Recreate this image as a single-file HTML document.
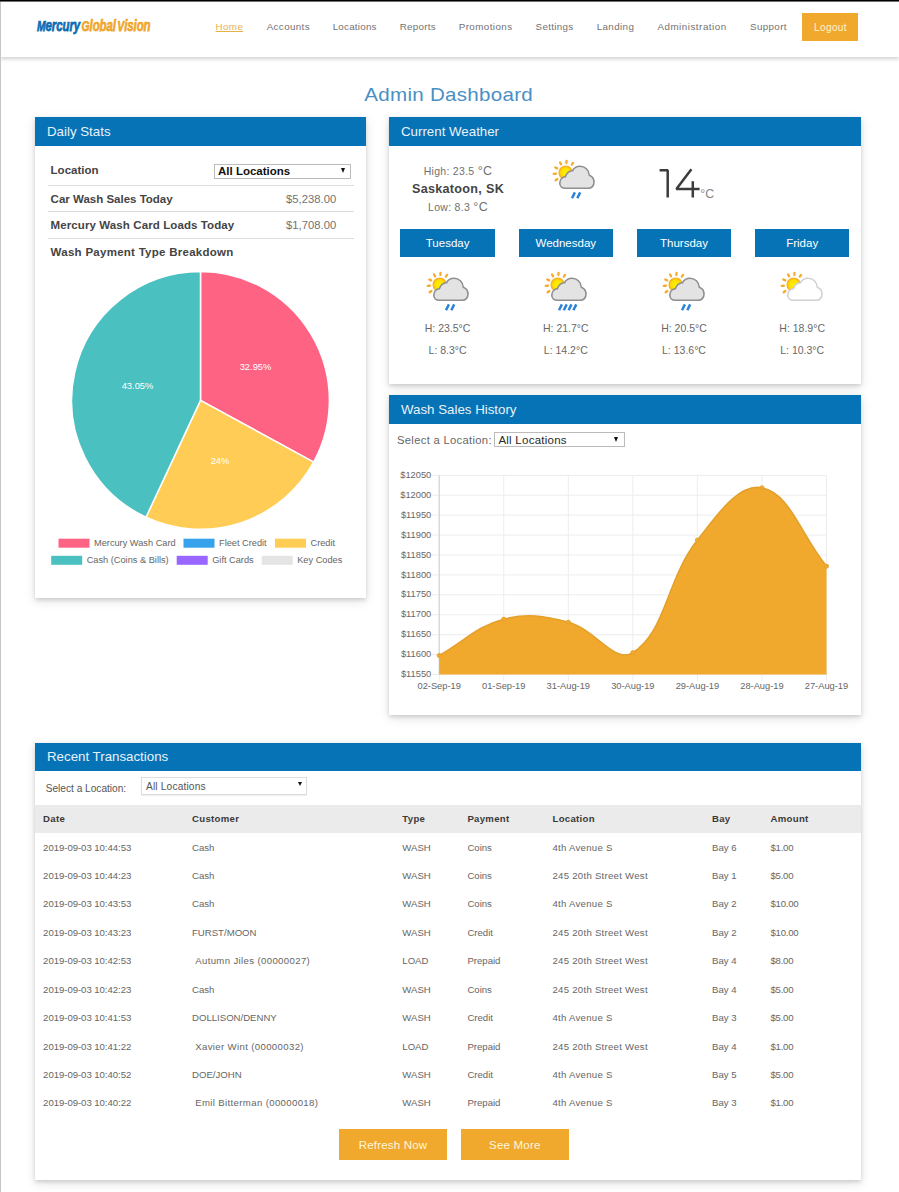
<!DOCTYPE html>
<html><head><meta charset="utf-8">
<style>
*{box-sizing:border-box;margin:0;padding:0}
html,body{width:899px;height:1192px;overflow:hidden;background:#fff}
body{font-family:"Liberation Sans",sans-serif;color:#555;position:relative;font-size:10.5px}
.abs{position:absolute;white-space:nowrap}
#topbar{left:0;top:0;width:899px;height:2px;background:linear-gradient(#000 0,#000 1px,#707070 1px,#707070 2px)}
#leftedge{left:0;top:2px;width:1px;height:1190px;background:#c6c6c6}
#nav{left:0;top:2px;width:899px;height:55px;background:#fff;box-shadow:0 2px 4px rgba(0,0,0,.19)}
.logo{left:37px;top:16px;font-size:16.6px;line-height:20px;font-weight:bold;font-style:italic;transform-origin:0 0;transform:scaleX(.69);letter-spacing:-.1px;-webkit-text-stroke:.75px;word-spacing:-2.5px}
.logo b{font-size:15px}
.logo .m{color:#0b6db3;-webkit-text-stroke-color:#0b6db3}.logo .g{color:#f0a62c;-webkit-text-stroke-color:#f0a62c}
.nv{top:20.9px;font-size:9.8px;color:#737373;line-height:12px}
#logout{left:802px;top:13px;width:56.4px;height:27.6px;background:#f0a92d;color:#fff3d2;text-align:center;line-height:29.6px;font-size:10px;letter-spacing:.42px;padding-left:.6px}
#title{left:-.7px;width:899px;text-align:center;top:82.8px;font-size:18.6px;color:#4a8fc4;line-height:24px;letter-spacing:.25px;transform:scaleX(1.105);transform-origin:448px 0}
.card{background:#fff;box-shadow:0 2px 4px rgba(0,0,0,.14),0 3px 11px rgba(0,0,0,.11)}
.hd{left:0;top:0;right:0;height:29px;background:#0673b6;color:#e9f2f9;font-size:13.3px;line-height:29px;padding-left:12px}
.lb{left:50.6px;font-size:11.5px;font-weight:bold;color:#444;line-height:14px}
.vl{left:286.1px;font-size:11.25px;color:#727272;line-height:14px}
.hr{left:48px;width:306px;height:1px;background:#dcdcdc}
.sel{border:1px solid #bbb;background:#fff}
.tri{width:0;height:0;border-left:2.9px solid transparent;border-right:2.9px solid transparent;border-top:5px solid #111}
.day{top:228.6px;width:94.6px;height:28.8px;background:#0673b6;color:#fff;text-align:center;line-height:28px;font-size:11.5px}
.hl{width:94.6px;text-align:center;font-size:10.5px;color:#686868;line-height:13px}
.th{font-size:9.6px;font-weight:bold;color:#3a3a3a;line-height:12px;letter-spacing:.3px}
.td{font-size:9.6px;color:#666;line-height:12px}
.td.d{letter-spacing:-.05px}
.td.m{letter-spacing:-.25px}
.td.l{letter-spacing:.27px}
.td.n{letter-spacing:.36px}
.btn{top:1129.4px;width:108px;height:30.6px;background:#f0a92d;color:#fff6dc;text-align:center;line-height:32.8px;font-size:11.5px;letter-spacing:.2px}
svg text{font-family:"Liberation Sans",sans-serif}
</style></head><body>
<svg width="0" height="0" style="position:absolute"><defs><radialGradient id="sung" cx="50%" cy="50%" r="60%"><stop offset="0" stop-color="#fff200"/><stop offset=".55" stop-color="#ffe100"/><stop offset="1" stop-color="#f9a825"/></radialGradient></defs></svg>
<div class="abs" id="nav"></div>
<div class="abs" id="topbar"></div>
<div class="abs" id="leftedge"></div>
<div class="abs logo"><span class="m"><b>M</b>ercury</span> <span class="g"><b>G</b>lobal <b>V</b>ision</span></div>
<div class="abs nv" style="left:215.5px;color:#e9b04c;text-decoration:underline;text-decoration-thickness:.8px;text-underline-offset:.6px;letter-spacing:0.4px">Home</div>
<div class="abs nv" style="left:266.7px;letter-spacing:0.37px">Accounts</div>
<div class="abs nv" style="left:332.7px;letter-spacing:0.23px">Locations</div>
<div class="abs nv" style="left:399.7px;letter-spacing:0.29px">Reports</div>
<div class="abs nv" style="left:458.7px;letter-spacing:0.43px">Promotions</div>
<div class="abs nv" style="left:535.6px;letter-spacing:0.31px">Settings</div>
<div class="abs nv" style="left:596.7px;letter-spacing:0.39px">Landing</div>
<div class="abs nv" style="left:657.4px;letter-spacing:0.52px">Administration</div>
<div class="abs nv" style="left:750px;letter-spacing:0.36px">Support</div>
<div class="abs" id="logout">Logout</div>
<div class="abs" id="title">Admin Dashboard</div>

<!-- DAILY STATS -->
<div class="abs card" style="left:35px;top:117px;width:331px;height:480.5px"><div class="abs hd">Daily Stats</div></div>
<div class="abs lb" style="top:163.2px">Location</div>
<div class="abs sel" style="left:214px;top:163.6px;width:137.2px;height:15px"></div>
<div class="abs" style="left:218px;top:164px;font-size:11.5px;font-weight:bold;color:#111;line-height:14px">All Locations</div>
<div class="abs tri" style="left:340.6px;top:168.4px"></div>
<div class="abs hr" style="top:185px"></div>
<div class="abs lb" style="top:191.8px">Car Wash Sales Today</div>
<div class="abs vl" style="top:191.8px">$5,238.00</div>
<div class="abs hr" style="top:211.4px"></div>
<div class="abs lb" style="top:218.4px;letter-spacing:.1px">Mercury Wash Card Loads Today</div>
<div class="abs vl" style="top:218.4px">$1,708.00</div>
<div class="abs hr" style="top:238px"></div>
<div class="abs lb" style="top:245px;letter-spacing:.27px">Wash Payment Type Breakdown</div>
<svg class="abs" style="left:0;top:0" width="899" height="1192" viewBox="0 0 899 1192">
<path d="M200.5 400.4L200.50 271.50A128.9 128.9 0 0 1 313.65 462.14Z" fill="#ff6384" stroke="#fff" stroke-width="1.5" stroke-linejoin="round"/><path d="M200.5 400.4L313.65 462.14A128.9 128.9 0 0 1 145.98 517.20Z" fill="#ffcd56" stroke="#fff" stroke-width="1.5" stroke-linejoin="round"/><path d="M200.5 400.4L145.98 517.20A128.9 128.9 0 0 1 200.50 271.50Z" fill="#4bc0c0" stroke="#fff" stroke-width="1.5" stroke-linejoin="round"/>
<g font-size="9.35" fill="#fff" text-anchor="middle"><text x="255.5" y="370.3">32.95%</text><text x="137.5" y="389.3">43.05%</text><text x="220" y="464.3">24%</text></g>
<g><rect x="58.5" y="538.7" width="31" height="9" fill="#ff6384"/><rect x="183.5" y="538.7" width="31" height="9" fill="#36a2eb"/><rect x="275" y="538.7" width="31" height="9" fill="#ffcd56"/>
<rect x="51.2" y="555.8" width="31" height="9" fill="#4bc0c0"/><rect x="176.7" y="555.8" width="31" height="9" fill="#9966ff"/><rect x="261.7" y="555.8" width="31" height="9" fill="#e4e4e4"/></g>
<g font-size="9.22" fill="#666"><text x="94" y="546.1">Mercury Wash Card</text><text x="219" y="546.1">Fleet Credit</text><text x="310.5" y="546.1">Credit</text>
<text x="86.7" y="562.7">Cash (Coins &amp; Bills)</text><text x="212.2" y="562.7">Gift Cards</text><text x="297.2" y="562.7">Key Codes</text></g>
</svg>

<!-- WEATHER -->
<div class="abs card" style="left:389px;top:117px;width:472px;height:266.5px"><div class="abs hd">Current Weather</div></div>
<div class="abs" style="left:398px;width:120px;text-align:center;top:165.4px;font-size:10.5px;color:#707070;line-height:13px;letter-spacing:.3px">High: 23.5 <span style="font-size:12.5px">°C</span></div>
<div class="abs" style="left:398px;width:120px;text-align:center;top:181.6px;font-size:12.6px;font-weight:bold;color:#444;line-height:15px;letter-spacing:.3px">Saskatoon, SK</div>
<div class="abs" style="left:398px;width:120px;text-align:center;top:200.6px;font-size:10.5px;color:#707070;line-height:13px;letter-spacing:.3px">Low: 8.3 <span style="font-size:12.5px">°C</span></div>
<svg class="abs" style="left:546.1px;top:153.9px" width="60" height="50" viewBox="0 0 60 50">
<g stroke="#f6ab2b" stroke-width="2.3" stroke-linecap="round"><line x1="20.39" y1="8.87" x2="20.53" y2="6.78"/><line x1="25.81" y1="10.59" x2="27.07" y2="8.92"/><line x1="15.07" y1="10.35" x2="14.05" y2="8.51"/><line x1="11.19" y1="14.36" x2="9.32" y2="13.41"/><line x1="9.80" y1="19.74" x2="7.72" y2="19.96"/><line x1="11.35" y1="24.99" x2="9.68" y2="26.25"/></g>
<circle cx="19.7" cy="18.7" r="6.6" fill="url(#sung)" stroke="#f8b127" stroke-width="1.3"/>
<path d="M19.5 34.3C15.5 34.3 13.8 31.5 13.8 29.2C13.8 25.5 16.5 23 19.5 22.6C20.5 19.5 23.5 17 26.5 16.8C28 13.8 30.8 12.2 34 12.2C39 12.2 43 16 43.3 21.2C46.5 22.3 48 25.5 48 28.3C48 31.8 45.5 34.3 42.5 34.3Z" fill="#e3e3e3" stroke="#8f8f8f" stroke-width="1.6" stroke-linejoin="round"/>
<g stroke="#2b83d8" stroke-width="2.5"><line x1="28.9" y1="38.4" x2="26.0" y2="44.2"/><line x1="34.2" y1="38.4" x2="31.300000000000004" y2="44.2"/></g></svg>
<svg class="abs" style="left:650px;top:160px" width="72" height="45" viewBox="650 160 72 45"><g fill="none" stroke="#3c3c3c" stroke-width="2.5" stroke-linejoin="bevel"><path d="M659.6 170.3H667.7V197.6"/><path d="M691.4 169.3L676.4 189H699.6M692.8 181.2V197.6"/></g></svg>
<div class="abs" style="left:700.3px;top:187.3px;font-size:12.4px;line-height:14px;color:#858585">°C</div>
<div class="abs day" style="left:400.3px">Tuesday</div><svg class="abs" style="left:420px;top:266px" width="60" height="50" viewBox="0 0 60 50">
<g stroke="#f6ab2b" stroke-width="2.3" stroke-linecap="round"><line x1="20.39" y1="8.87" x2="20.53" y2="6.78"/><line x1="25.81" y1="10.59" x2="27.07" y2="8.92"/><line x1="15.07" y1="10.35" x2="14.05" y2="8.51"/><line x1="11.19" y1="14.36" x2="9.32" y2="13.41"/><line x1="9.80" y1="19.74" x2="7.72" y2="19.96"/><line x1="11.35" y1="24.99" x2="9.68" y2="26.25"/></g>
<circle cx="19.7" cy="18.7" r="6.6" fill="url(#sung)" stroke="#f8b127" stroke-width="1.3"/>
<path d="M19.5 34.3C15.5 34.3 13.8 31.5 13.8 29.2C13.8 25.5 16.5 23 19.5 22.6C20.5 19.5 23.5 17 26.5 16.8C28 13.8 30.8 12.2 34 12.2C39 12.2 43 16 43.3 21.2C46.5 22.3 48 25.5 48 28.3C48 31.8 45.5 34.3 42.5 34.3Z" fill="#e3e3e3" stroke="#8f8f8f" stroke-width="1.6" stroke-linejoin="round"/>
<g stroke="#2b83d8" stroke-width="2.5"><line x1="28.9" y1="38.4" x2="26.0" y2="44.2"/><line x1="34.2" y1="38.4" x2="31.300000000000004" y2="44.2"/></g></svg><div class="abs hl" style="left:400.3px;top:322.3px">H: 23.5°C</div><div class="abs hl" style="left:400.3px;top:344px">L: 8.3°C</div><div class="abs day" style="left:518.5px">Wednesday</div><svg class="abs" style="left:538px;top:266px" width="60" height="50" viewBox="0 0 60 50">
<g stroke="#f6ab2b" stroke-width="2.3" stroke-linecap="round"><line x1="20.39" y1="8.87" x2="20.53" y2="6.78"/><line x1="25.81" y1="10.59" x2="27.07" y2="8.92"/><line x1="15.07" y1="10.35" x2="14.05" y2="8.51"/><line x1="11.19" y1="14.36" x2="9.32" y2="13.41"/><line x1="9.80" y1="19.74" x2="7.72" y2="19.96"/><line x1="11.35" y1="24.99" x2="9.68" y2="26.25"/></g>
<circle cx="19.7" cy="18.7" r="6.6" fill="url(#sung)" stroke="#f8b127" stroke-width="1.3"/>
<path d="M19.5 34.3C15.5 34.3 13.8 31.5 13.8 29.2C13.8 25.5 16.5 23 19.5 22.6C20.5 19.5 23.5 17 26.5 16.8C28 13.8 30.8 12.2 34 12.2C39 12.2 43 16 43.3 21.2C46.5 22.3 48 25.5 48 28.3C48 31.8 45.5 34.3 42.5 34.3Z" fill="#e3e3e3" stroke="#8f8f8f" stroke-width="1.6" stroke-linejoin="round"/>
<g stroke="#2b83d8" stroke-width="2.5"><line x1="23.9" y1="38.4" x2="21.0" y2="44.2"/><line x1="28.7" y1="38.4" x2="25.8" y2="44.2"/><line x1="33.5" y1="38.4" x2="30.6" y2="44.2"/><line x1="38.3" y1="38.4" x2="35.4" y2="44.2"/></g></svg><div class="abs hl" style="left:518.5px;top:322.3px">H: 21.7°C</div><div class="abs hl" style="left:518.5px;top:344px">L: 14.2°C</div><div class="abs day" style="left:636.7px">Thursday</div><svg class="abs" style="left:656px;top:266px" width="60" height="50" viewBox="0 0 60 50">
<g stroke="#f6ab2b" stroke-width="2.3" stroke-linecap="round"><line x1="20.39" y1="8.87" x2="20.53" y2="6.78"/><line x1="25.81" y1="10.59" x2="27.07" y2="8.92"/><line x1="15.07" y1="10.35" x2="14.05" y2="8.51"/><line x1="11.19" y1="14.36" x2="9.32" y2="13.41"/><line x1="9.80" y1="19.74" x2="7.72" y2="19.96"/><line x1="11.35" y1="24.99" x2="9.68" y2="26.25"/></g>
<circle cx="19.7" cy="18.7" r="6.6" fill="url(#sung)" stroke="#f8b127" stroke-width="1.3"/>
<path d="M19.5 34.3C15.5 34.3 13.8 31.5 13.8 29.2C13.8 25.5 16.5 23 19.5 22.6C20.5 19.5 23.5 17 26.5 16.8C28 13.8 30.8 12.2 34 12.2C39 12.2 43 16 43.3 21.2C46.5 22.3 48 25.5 48 28.3C48 31.8 45.5 34.3 42.5 34.3Z" fill="#e3e3e3" stroke="#8f8f8f" stroke-width="1.6" stroke-linejoin="round"/>
<g stroke="#2b83d8" stroke-width="2.5"><line x1="28.9" y1="38.4" x2="26.0" y2="44.2"/><line x1="34.2" y1="38.4" x2="31.300000000000004" y2="44.2"/></g></svg><div class="abs hl" style="left:636.7px;top:322.3px">H: 20.5°C</div><div class="abs hl" style="left:636.7px;top:344px">L: 13.6°C</div><div class="abs day" style="left:754.9000000000001px">Friday</div><svg class="abs" style="left:774px;top:266px" width="60" height="50" viewBox="0 0 60 50">
<g stroke="#f6ab2b" stroke-width="2.3" stroke-linecap="round"><line x1="20.39" y1="8.87" x2="20.53" y2="6.78"/><line x1="25.81" y1="10.59" x2="27.07" y2="8.92"/><line x1="15.07" y1="10.35" x2="14.05" y2="8.51"/><line x1="11.19" y1="14.36" x2="9.32" y2="13.41"/><line x1="9.80" y1="19.74" x2="7.72" y2="19.96"/><line x1="11.35" y1="24.99" x2="9.68" y2="26.25"/></g>
<circle cx="19.7" cy="18.7" r="6.6" fill="url(#sung)" stroke="#f8b127" stroke-width="1.3"/>
<path d="M19.5 34.3C15.5 34.3 13.8 31.5 13.8 29.2C13.8 25.5 16.5 23 19.5 22.6C20.5 19.5 23.5 17 26.5 16.8C28 13.8 30.8 12.2 34 12.2C39 12.2 43 16 43.3 21.2C46.5 22.3 48 25.5 48 28.3C48 31.8 45.5 34.3 42.5 34.3Z" fill="#ffffff" stroke="#d2d2d2" stroke-width="1.6" stroke-linejoin="round"/>
<g stroke="#2b83d8" stroke-width="2.5"></g></svg><div class="abs hl" style="left:754.9000000000001px;top:322.3px">H: 18.9°C</div><div class="abs hl" style="left:754.9000000000001px;top:344px">L: 10.3°C</div>

<!-- HISTORY -->
<div class="abs card" style="left:389px;top:395px;width:472px;height:319.8px"><div class="abs hd">Wash Sales History</div></div>
<div class="abs" style="left:397px;top:434.1px;font-size:11.25px;color:#676767;line-height:13px;letter-spacing:.3px">Select a Location:</div>
<div class="abs sel" style="left:494.4px;top:432px;width:130.3px;height:15.2px"></div>
<div class="abs" style="left:498.4px;top:433.8px;font-size:11.5px;color:#2a2a2a;line-height:13px;letter-spacing:.25px">All Locations</div>
<div class="abs tri" style="left:614.4px;top:437.2px"></div>
<svg class="abs" style="left:0;top:0" width="899" height="1192" viewBox="0 0 899 1192">
<g stroke="#ededed" stroke-width="1"><line x1="431.5" x2="826.5" y1="475.30" y2="475.30"/><line x1="431.5" x2="826.5" y1="495.22" y2="495.22"/><line x1="431.5" x2="826.5" y1="515.14" y2="515.14"/><line x1="431.5" x2="826.5" y1="535.06" y2="535.06"/><line x1="431.5" x2="826.5" y1="554.98" y2="554.98"/><line x1="431.5" x2="826.5" y1="574.90" y2="574.90"/><line x1="431.5" x2="826.5" y1="594.82" y2="594.82"/><line x1="431.5" x2="826.5" y1="614.74" y2="614.74"/><line x1="431.5" x2="826.5" y1="634.66" y2="634.66"/><line x1="431.5" x2="826.5" y1="654.58" y2="654.58"/><line x1="431.5" x2="826.5" y1="674.50" y2="674.50"/><line x1="439.20" x2="439.20" y1="475.3" y2="681.5"/><line x1="503.75" x2="503.75" y1="475.3" y2="681.5"/><line x1="568.30" x2="568.30" y1="475.3" y2="681.5"/><line x1="632.85" x2="632.85" y1="475.3" y2="681.5"/><line x1="697.40" x2="697.40" y1="475.3" y2="681.5"/><line x1="761.95" x2="761.95" y1="475.3" y2="681.5"/><line x1="826.50" x2="826.50" y1="475.3" y2="681.5"/></g>
<line x1="439.2" x2="439.2" y1="475.3" y2="674.5" stroke="#cfcfcf" stroke-width="1"/>
<path d="M439.20 655.50C465.02 640.98 476.17 626.31 503.75 619.20C527.81 612.99 543.77 615.83 568.30 622.20C595.41 629.23 614.52 664.35 632.85 652.70C666.16 631.51 665.91 580.32 697.40 540.10C717.55 514.36 738.71 483.10 761.95 487.80C790.35 493.54 800.68 534.84 826.50 566.20L826.50 674.5L439.20 674.5Z" fill="#f0a92d"/>
<path d="M439.20 655.50C465.02 640.98 476.17 626.31 503.75 619.20C527.81 612.99 543.77 615.83 568.30 622.20C595.41 629.23 614.52 664.35 632.85 652.70C666.16 631.51 665.91 580.32 697.40 540.10C717.55 514.36 738.71 483.10 761.95 487.80C790.35 493.54 800.68 534.84 826.50 566.20" fill="none" stroke="#e3a02c" stroke-width="1.6"/>
<g fill="#f0a92d" stroke="#e3a02c" stroke-width=".8"><circle cx="439.20" cy="655.50" r="2.1"/><circle cx="503.75" cy="619.20" r="2.1"/><circle cx="568.30" cy="622.20" r="2.1"/><circle cx="632.85" cy="652.70" r="2.1"/><circle cx="697.40" cy="540.10" r="2.1"/><circle cx="761.95" cy="487.80" r="2.1"/><circle cx="826.50" cy="566.20" r="2.1"/></g>
<g font-size="9.3" fill="#666"><text x="431.3" y="477.90" text-anchor="end">$12050</text><text x="431.3" y="497.82" text-anchor="end">$12000</text><text x="431.3" y="517.74" text-anchor="end">$11950</text><text x="431.3" y="537.66" text-anchor="end">$11900</text><text x="431.3" y="557.58" text-anchor="end">$11850</text><text x="431.3" y="577.50" text-anchor="end">$11800</text><text x="431.3" y="597.42" text-anchor="end">$11750</text><text x="431.3" y="617.34" text-anchor="end">$11700</text><text x="431.3" y="637.26" text-anchor="end">$11650</text><text x="431.3" y="657.18" text-anchor="end">$11600</text><text x="431.3" y="677.10" text-anchor="end">$11550</text><text x="439.20" y="689.3" text-anchor="middle">02-Sep-19</text><text x="503.75" y="689.3" text-anchor="middle">01-Sep-19</text><text x="568.30" y="689.3" text-anchor="middle">31-Aug-19</text><text x="632.85" y="689.3" text-anchor="middle">30-Aug-19</text><text x="697.40" y="689.3" text-anchor="middle">29-Aug-19</text><text x="761.95" y="689.3" text-anchor="middle">28-Aug-19</text><text x="826.50" y="689.3" text-anchor="middle">27-Aug-19</text></g>
</svg>

<!-- TRANSACTIONS -->
<div class="abs card" style="left:35px;top:742.5px;width:826px;height:437px"><div class="abs hd" style="height:28.5px;line-height:28.5px">Recent Transactions</div></div>
<div class="abs" style="left:45.7px;top:783.2px;font-size:10.15px;color:#555;line-height:12px">Select a Location:</div>
<div class="abs" style="left:140.8px;top:776.6px;width:166.2px;height:18px;border:1px solid #ddd;background:#fff;box-shadow:0 1px 1px rgba(0,0,0,.06)"></div>
<div class="abs" style="left:146px;top:780.6px;font-size:10.2px;letter-spacing:.15px;color:#555;line-height:12px">All Locations</div>
<div class="abs tri" style="left:297.6px;top:782.4px;border-left-width:2.8px;border-right-width:2.8px;border-top-width:4.8px"></div>
<div class="abs" style="left:35px;top:805px;width:826px;height:27.9px;background:#ebebeb"></div>
<div class="abs th" style="left:43.1px;top:812.9px">Date</div><div class="abs th" style="left:192.0px;top:812.9px">Customer</div><div class="abs th" style="left:402.3px;top:812.9px">Type</div><div class="abs th" style="left:467.4px;top:812.9px">Payment</div><div class="abs th" style="left:552.5px;top:812.9px">Location</div><div class="abs th" style="left:712px;top:812.9px">Bay</div><div class="abs th" style="left:770.5px;top:812.9px">Amount</div><div class="abs td d" style="left:43.1px;top:841.6px">2019-09-03 10:44:53</div><div class="abs td" style="left:192.0px;top:841.6px">Cash</div><div class="abs td" style="left:402.3px;top:841.6px">WASH</div><div class="abs td" style="left:467.4px;top:841.6px">Coins</div><div class="abs td l" style="left:552.5px;top:841.6px">4th Avenue S</div><div class="abs td" style="left:712px;top:841.6px">Bay 6</div><div class="abs td m" style="left:770.5px;top:841.6px">$1.00</div><div class="abs td d" style="left:43.1px;top:870.0px">2019-09-03 10:44:23</div><div class="abs td" style="left:192.0px;top:870.0px">Cash</div><div class="abs td" style="left:402.3px;top:870.0px">WASH</div><div class="abs td" style="left:467.4px;top:870.0px">Coins</div><div class="abs td l" style="left:552.5px;top:870.0px">245 20th Street West</div><div class="abs td" style="left:712px;top:870.0px">Bay 1</div><div class="abs td m" style="left:770.5px;top:870.0px">$5.00</div><div class="abs td d" style="left:43.1px;top:898.4px">2019-09-03 10:43:53</div><div class="abs td" style="left:192.0px;top:898.4px">Cash</div><div class="abs td" style="left:402.3px;top:898.4px">WASH</div><div class="abs td" style="left:467.4px;top:898.4px">Coins</div><div class="abs td l" style="left:552.5px;top:898.4px">4th Avenue S</div><div class="abs td" style="left:712px;top:898.4px">Bay 2</div><div class="abs td m" style="left:770.5px;top:898.4px">$10.00</div><div class="abs td d" style="left:43.1px;top:926.9px">2019-09-03 10:43:23</div><div class="abs td" style="left:192.0px;top:926.9px">FURST/MOON</div><div class="abs td" style="left:402.3px;top:926.9px">WASH</div><div class="abs td" style="left:467.4px;top:926.9px">Credit</div><div class="abs td l" style="left:552.5px;top:926.9px">245 20th Street West</div><div class="abs td" style="left:712px;top:926.9px">Bay 2</div><div class="abs td m" style="left:770.5px;top:926.9px">$10.00</div><div class="abs td d" style="left:43.1px;top:955.3px">2019-09-03 10:42:53</div><div class="abs td n" style="left:195.2px;top:955.3px">Autumn Jiles (00000027)</div><div class="abs td" style="left:402.3px;top:955.3px">LOAD</div><div class="abs td" style="left:467.4px;top:955.3px">Prepaid</div><div class="abs td l" style="left:552.5px;top:955.3px">245 20th Street West</div><div class="abs td" style="left:712px;top:955.3px">Bay 4</div><div class="abs td m" style="left:770.5px;top:955.3px">$8.00</div><div class="abs td d" style="left:43.1px;top:983.7px">2019-09-03 10:42:23</div><div class="abs td" style="left:192.0px;top:983.7px">Cash</div><div class="abs td" style="left:402.3px;top:983.7px">WASH</div><div class="abs td" style="left:467.4px;top:983.7px">Coins</div><div class="abs td l" style="left:552.5px;top:983.7px">245 20th Street West</div><div class="abs td" style="left:712px;top:983.7px">Bay 4</div><div class="abs td m" style="left:770.5px;top:983.7px">$5.00</div><div class="abs td d" style="left:43.1px;top:1012.1px">2019-09-03 10:41:53</div><div class="abs td" style="left:192.0px;top:1012.1px">DOLLISON/DENNY</div><div class="abs td" style="left:402.3px;top:1012.1px">WASH</div><div class="abs td" style="left:467.4px;top:1012.1px">Credit</div><div class="abs td l" style="left:552.5px;top:1012.1px">4th Avenue S</div><div class="abs td" style="left:712px;top:1012.1px">Bay 3</div><div class="abs td m" style="left:770.5px;top:1012.1px">$5.00</div><div class="abs td d" style="left:43.1px;top:1040.5px">2019-09-03 10:41:22</div><div class="abs td n" style="left:195.2px;top:1040.5px">Xavier Wint (00000032)</div><div class="abs td" style="left:402.3px;top:1040.5px">LOAD</div><div class="abs td" style="left:467.4px;top:1040.5px">Prepaid</div><div class="abs td l" style="left:552.5px;top:1040.5px">245 20th Street West</div><div class="abs td" style="left:712px;top:1040.5px">Bay 4</div><div class="abs td m" style="left:770.5px;top:1040.5px">$1.00</div><div class="abs td d" style="left:43.1px;top:1069.0px">2019-09-03 10:40:52</div><div class="abs td" style="left:192.0px;top:1069.0px">DOE/JOHN</div><div class="abs td" style="left:402.3px;top:1069.0px">WASH</div><div class="abs td" style="left:467.4px;top:1069.0px">Credit</div><div class="abs td l" style="left:552.5px;top:1069.0px">4th Avenue S</div><div class="abs td" style="left:712px;top:1069.0px">Bay 5</div><div class="abs td m" style="left:770.5px;top:1069.0px">$5.00</div><div class="abs td d" style="left:43.1px;top:1097.4px">2019-09-03 10:40:22</div><div class="abs td n" style="left:195.2px;top:1097.4px">Emil Bitterman (00000018)</div><div class="abs td" style="left:402.3px;top:1097.4px">WASH</div><div class="abs td" style="left:467.4px;top:1097.4px">Prepaid</div><div class="abs td l" style="left:552.5px;top:1097.4px">4th Avenue S</div><div class="abs td" style="left:712px;top:1097.4px">Bay 3</div><div class="abs td m" style="left:770.5px;top:1097.4px">$1.00</div>
<div class="abs btn" style="left:339px">Refresh Now</div>
<div class="abs btn" style="left:460.8px">See More</div>
</body></html>
